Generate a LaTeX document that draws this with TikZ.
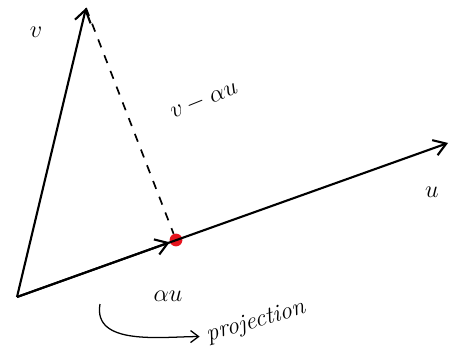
\documentclass[tikz,border=0pt]{standalone}
\usepackage{amsmath}
\usepackage{tikz}
\usetikzlibrary{arrows.meta,positioning}
\definecolor{dotred}{RGB}{230,20,30}

\begin{document}
\begin{tikzpicture}[
    vec/.style={-{Straight Barb[length=3mm,width=4mm]}, line width=1.5pt, black},
    resid/.style={dashed, line width=1.2pt, dash pattern=on 6pt off 6pt},
    lab/.style={font=\LARGE, inner sep=1pt},
    pt/.style={circle, fill=dotred, inner sep=0pt, minimum size=3.2mm},
    curvearrow/.style={-{Straight Barb[length=2mm,width=3mm]}, line width=0.9pt, shorten >=4pt}
]
\useasboundingbox (0,0) rectangle (11.225,9);

% ============ vectors ============
\coordinate (origin) at (0.425,1.575);
\coordinate (vtip) at (2.15,8.8);
\coordinate (utip) at (11.2,5.425);
\node[pt] (proj) at (4.4,3.0) {};

\draw[vec] (origin) -- (utip);
\draw[vec] (origin) -- (vtip);
\draw[vec] (origin) -- (proj);
\draw[resid] (vtip) -- (proj);

% ============ labels ============
\node[lab] (v-lab) at (0.9,8.2) {$v$};
\node[lab, rotate=22] (res-lab) at (5.1,6.5) {$v-\alpha u$};
\node[lab] (u-lab) at (10.8,4.2) {$u$};
\node[lab] (au-lab) at (4.2,1.6) {$\alpha u$};
\node[lab, rotate=16] (proj-lab) at (6.4,0.95) {\textit{projection}};

\coordinate (arc-start) at (2.5,1.4);
\draw[curvearrow] (arc-start) to[out=-100, in=180] (proj-lab.west);

\end{tikzpicture}
\end{document}
